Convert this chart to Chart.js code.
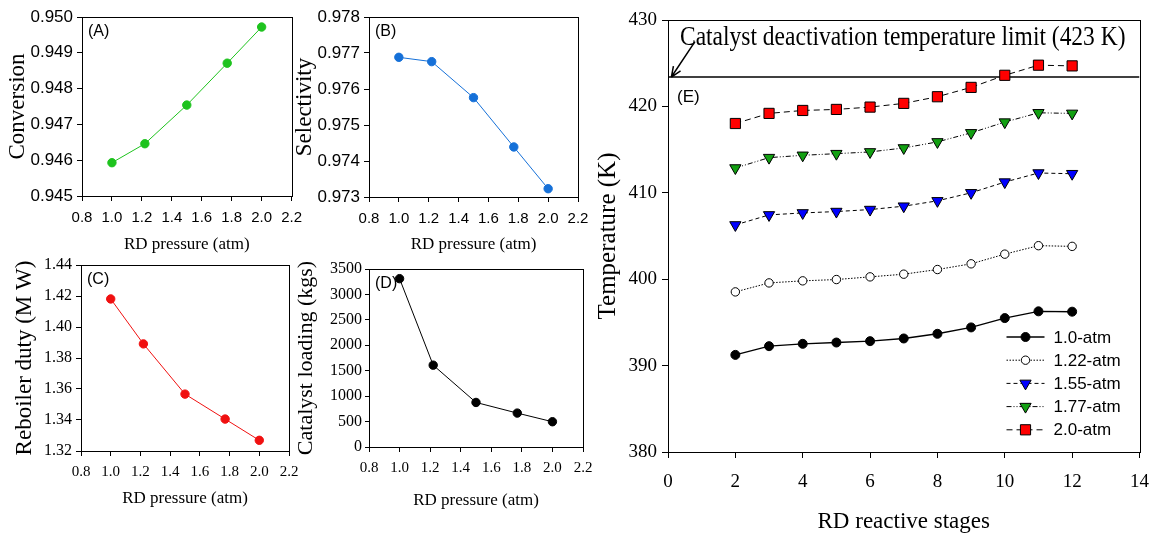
<!DOCTYPE html>
<html>
<head>
<meta charset="utf-8">
<script src="https://cdn.jsdelivr.net/npm/chart.js@4.4.1/dist/chart.umd.min.js"></script>
<style>
  html, body { margin: 0; padding: 0; background: #fff; }
  body { width: 1162px; height: 536px; position: relative; overflow: hidden; }
  canvas { position: absolute; }
</style>
</head>
<body>
<canvas id="cA" width="310" height="262" style="left:0;top:0"></canvas>
<canvas id="cB" width="310" height="262" style="left:290px;top:0"></canvas>
<canvas id="cC" width="310" height="286" style="left:0;top:250px"></canvas>
<canvas id="cD" width="320" height="286" style="left:290px;top:250px"></canvas>
<canvas id="cE" width="582" height="536" style="left:580px;top:0"></canvas>
<script>
// panels A-D: RD pressure sweep
const pressures = [1.0, 1.22, 1.5, 1.77, 2.0];
const conversion = [0.94593, 0.94646, 0.94754, 0.94871, 0.94972];
const selectivity = [0.97688, 0.97676, 0.97576, 0.97439, 0.97323];
const reboilerDuty = [1.4181, 1.3891, 1.3567, 1.3406, 1.3269];
const catalystLoading = [3310, 1609, 876, 667, 497];

// panel E: temperature profile along the reactive stages
const stages = [2, 3, 4, 5, 6, 7, 8, 9, 10, 11, 12];
const temp100 = [391.24, 392.25, 392.52, 392.67, 392.83, 393.14, 393.68, 394.42, 395.5, 396.28, 396.24];
const temp122 = [398.53, 399.57, 399.81, 399.96, 400.27, 400.58, 401.12, 401.78, 402.9, 403.88, 403.8];
const temp155 = [406.28, 407.44, 407.67, 407.83, 408.06, 408.45, 409.07, 410.0, 411.24, 412.29, 412.21];
const temp177 = [412.87, 414.07, 414.34, 414.53, 414.73, 415.19, 415.89, 416.94, 418.18, 419.26, 419.19];
const temp200 = [418.02, 419.19, 419.53, 419.65, 419.92, 420.35, 421.12, 422.2, 423.6, 424.77, 424.69];
const seriesLabels = ['1.0-atm', '1.22-atm', '1.55-atm', '1.77-atm', '2.0-atm'];
const limitK = 423.4;
const limitText = 'Catalyst deactivation temperature limit (423 K)';

const SERIF = '"Liberation Serif", "Times New Roman", serif';
const SANS = '"Liberation Sans", Arial, sans-serif';

const pts = (xs, ys) => xs.map((x, i) => ({ x: x, y: ys[i] }));

// box around the plot area + panel letter
const framePlugin = {
  id: 'frame',
  beforeDatasetsDraw(chart) {
    const { ctx, chartArea: a } = chart;
    ctx.save();
    ctx.strokeStyle = '#000';
    ctx.lineWidth = 1;
    ctx.strokeRect(Math.round(a.left) + 0.5, Math.round(a.top) + 0.5,
      Math.round(a.right - a.left), Math.round(a.bottom - a.top));
    const lbl = chart.options.plugins.frame.label;
    if (lbl) {
      ctx.fillStyle = '#000';
      ctx.font = '16px ' + SANS;
      ctx.textBaseline = 'middle';
      ctx.textAlign = 'left';
      ctx.fillText(lbl, a.left + 6, a.top + 15);
    }
    ctx.restore();
  }
};

function smallPanel(id, o) {
  const canvas = document.getElementById(id);
  const serifTicks = o.serifTicks;
  return new Chart(canvas, {
    type: 'line',
    data: {
      datasets: [{
        data: pts(pressures, o.values),
        borderColor: o.color,
        backgroundColor: o.color,
        borderWidth: 1,
        pointRadius: 4.2,
        pointBorderWidth: 1,
        pointBorderColor: o.color,
        pointBackgroundColor: o.color,
        tension: 0
      }]
    },
    options: {
      responsive: false,
      animation: false,
      devicePixelRatio: 1,
      layout: { padding: { top: o.box.top, right: canvas.width - o.box.right, left: 0, bottom: 0 } },
      plugins: { legend: { display: false }, tooltip: { enabled: false }, frame: { label: o.label } },
      scales: {
        x: {
          type: 'linear', min: 0.8, max: 2.2,
          border: { display: false },
          grid: { drawOnChartArea: false, drawTicks: true, tickLength: 5, color: '#000' },
          ticks: {
            stepSize: 0.2, autoSkip: false, maxRotation: 0, color: '#000', padding: serifTicks ? 7 : 8,
            font: { family: serifTicks ? SERIF : SANS, size: 15 },
            callback: v => v.toFixed(1)
          },
          title: {
            display: true, text: 'RD pressure (atm)', color: '#000',
            font: { family: SERIF, size: 17 }, padding: { top: 0, bottom: o.xTitlePad }
          },
          afterFit: s => { s.height = canvas.height - o.box.bottom; }
        },
        y: {
          min: o.yMin, max: o.yMax,
          border: { display: false },
          grid: { drawOnChartArea: false, drawTicks: true, tickLength: o.yTick, color: '#000' },
          ticks: {
            stepSize: o.yStep, autoSkip: false, color: '#000', padding: o.yPad,
            font: { family: serifTicks ? SERIF : SANS, size: serifTicks ? 16 : 17 },
            callback: v => v.toFixed(o.yDec)
          },
          title: {
            display: true, text: o.yTitle, color: '#000',
            font: { family: SERIF, size: o.yTitleSize }, padding: { top: o.yTitlePad, bottom: 0 }
          },
          afterFit: s => { s.width = o.box.left; }
        }
      }
    },
    plugins: [framePlugin]
  });
}

smallPanel('cA', {
  values: conversion, color: '#1ec31e', label: '(A)',
  box: { left: 82, right: 292, top: 17, bottom: 196 },
  yMin: 0.945, yMax: 0.950, yStep: 0.001, yDec: 3, yTick: 5, yPad: 4,
  yTitle: 'Conversion', yTitleSize: 23, yTitlePad: 4, xTitlePad: 7, serifTicks: false
});
smallPanel('cB', {
  values: selectivity, color: '#1570d8', label: '(B)',
  box: { left: 79, right: 288, top: 17, bottom: 197 },
  yMin: 0.973, yMax: 0.978, yStep: 0.001, yDec: 3, yTick: 5, yPad: 4,
  yTitle: 'Selectivity', yTitleSize: 23, yTitlePad: 1, xTitlePad: 7, serifTicks: false
});
smallPanel('cC', {
  values: reboilerDuty, color: '#f01010', label: '(C)',
  box: { left: 81, right: 289, top: 15, bottom: 201 },
  yMin: 1.32, yMax: 1.44, yStep: 0.02, yDec: 2, yTick: 5, yPad: 4,
  yTitle: 'Reboiler duty (M W)', yTitleSize: 23, yTitlePad: 11, xTitlePad: 27, serifTicks: true
});
smallPanel('cD', {
  values: catalystLoading, color: '#000000', label: '(D)',
  box: { left: 79, right: 293, top: 19, bottom: 197 },
  yMin: 0, yMax: 3500, yStep: 500, yDec: 0, yTick: 4, yPad: 3,
  yTitle: 'Catalyst loading (kgs)', yTitleSize: 22, yTitlePad: 3, xTitlePad: 25, serifTicks: true
});

// ---- panel E ----
function drawMarker(ctx, style, x, y, r, rot) {
  ctx.beginPath();
  if (style === 'circle') {
    ctx.arc(x, y, r, 0, Math.PI * 2);
  } else if (style === 'rect') {
    const s = r * Math.SQRT1_2;
    ctx.rect(x - s, y - s, 2 * s, 2 * s);
  } else if (style === 'triangle') {
    let a = rot ? Math.PI : 0;
    ctx.moveTo(x + Math.sin(a) * r, y - Math.cos(a) * r);
    a += 2 * Math.PI / 3;
    ctx.lineTo(x + Math.sin(a) * r, y - Math.cos(a) * r);
    a += 2 * Math.PI / 3;
    ctx.lineTo(x + Math.sin(a) * r, y - Math.cos(a) * r);
    ctx.closePath();
  }
  ctx.fill();
  ctx.stroke();
}

const panelEPlugin = {
  id: 'panelE',
  afterDatasetsDraw(chart) {
    const { ctx, chartArea: a, scales } = chart;
    ctx.save();
    ctx.fillStyle = '#000';
    // limit caption, squeezed horizontally like the original
    ctx.font = '27px ' + SERIF;
    ctx.textBaseline = 'alphabetic';
    ctx.textAlign = 'left';
    ctx.save();
    ctx.translate(a.left + 12, a.top + 25);
    ctx.scale(0.87, 1);
    ctx.fillText(limitText, 0, 0);
    ctx.restore();

    // arrow pointing at the limit line
    const hx = scales.x.getPixelForValue(0.1), hy = scales.y.getPixelForValue(limitK);
    const tx = scales.x.getPixelForValue(0.8), ty = scales.y.getPixelForValue(427.5);
    ctx.strokeStyle = '#000';
    ctx.lineWidth = 1.5;
    ctx.beginPath();
    ctx.moveTo(tx, ty);
    ctx.lineTo(hx, hy);
    const ang = Math.atan2(hy - ty, hx - tx);
    ctx.moveTo(hx, hy);
    ctx.lineTo(hx - 11 * Math.cos(ang - 0.4), hy - 11 * Math.sin(ang - 0.4));
    ctx.moveTo(hx, hy);
    ctx.lineTo(hx - 11 * Math.cos(ang + 0.4), hy - 11 * Math.sin(ang + 0.4));
    ctx.stroke();

    ctx.font = '17px ' + SANS;
    ctx.textBaseline = 'middle';
    ctx.fillText('(E)', a.left + 9, a.top + 77);

    // legend
    const x0 = a.right - 133, y0 = a.bottom - 115;
    chart.data.datasets.forEach((ds, i) => {
      if (!ds.inLegend) return;
      const y = y0 + i * 23.2;
      ctx.save();
      ctx.strokeStyle = ds.borderColor;
      ctx.lineWidth = ds.borderWidth;
      ctx.setLineDash(ds.borderDash || []);
      ctx.beginPath();
      ctx.moveTo(x0, y);
      ctx.lineTo(x0 + 38, y);
      ctx.stroke();
      ctx.restore();
      ctx.save();
      ctx.fillStyle = ds.pointBackgroundColor;
      ctx.strokeStyle = ds.pointBorderColor;
      ctx.lineWidth = 1;
      drawMarker(ctx, ds.pointStyle, x0 + 19, y, ds.pointRadius, ds.pointRotation);
      ctx.restore();
      ctx.fillStyle = '#000';
      ctx.font = '17px ' + SANS;
      ctx.textBaseline = 'middle';
      ctx.fillText(ds.label, x0 + 47, y + 1);
    });
    ctx.restore();
  }
};

function tempSeries(label, ys, o) {
  return Object.assign({
    label: label,
    data: pts(stages, ys),
    inLegend: true,
    borderColor: '#000',
    borderWidth: 1,
    pointBorderColor: '#000',
    pointBorderWidth: 1,
    pointRotation: 0,
    tension: 0
  }, o);
}

const canvasE = document.getElementById('cE');
const boxE = { left: 88, right: 560, top: 20, bottom: 452 };
new Chart(canvasE, {
  type: 'line',
  data: {
    datasets: [
      tempSeries(seriesLabels[0], temp100, { borderWidth: 1.4, pointStyle: 'circle', pointRadius: 4.5, pointBackgroundColor: '#000' }),
      tempSeries(seriesLabels[1], temp122, { borderDash: [1.5, 1.5], pointStyle: 'circle', pointRadius: 4.2, pointBackgroundColor: '#fff' }),
      tempSeries(seriesLabels[2], temp155, { borderDash: [4, 3], pointStyle: 'triangle', pointRotation: 180, pointRadius: 6.5, pointBackgroundColor: '#0000ff' }),
      tempSeries(seriesLabels[3], temp177, { borderDash: [5, 2, 1, 2, 1, 2], pointStyle: 'triangle', pointRotation: 180, pointRadius: 6.5, pointBackgroundColor: '#12a012' }),
      tempSeries(seriesLabels[4], temp200, { borderDash: [6, 4], pointStyle: 'rect', pointRadius: 7.2, pointBackgroundColor: '#ff0000' }),
      {
        label: 'limit', inLegend: false,
        data: [{ x: 0, y: limitK }, { x: 14, y: limitK }],
        borderColor: '#000', borderWidth: 1.5, pointRadius: 0, tension: 0
      }
    ]
  },
  options: {
    responsive: false,
    animation: false,
    devicePixelRatio: 1,
    layout: { padding: { top: boxE.top, right: canvasE.width - boxE.right, left: 0, bottom: 0 } },
    plugins: { legend: { display: false }, tooltip: { enabled: false }, frame: {} },
    scales: {
      x: {
        type: 'linear', min: 0, max: 14,
        border: { display: false },
        grid: { drawOnChartArea: false, drawTicks: true, tickLength: 6, color: '#000' },
        ticks: { stepSize: 2, autoSkip: false, maxRotation: 0, color: '#000', padding: 13, font: { family: SERIF, size: 19 } },
        title: { display: true, text: 'RD reactive stages', color: '#000', font: { family: SERIF, size: 23 }, padding: { top: 0, bottom: 0 } },
        afterFit: s => { s.height = canvasE.height - boxE.bottom; }
      },
      y: {
        min: 380, max: 430,
        border: { display: false },
        grid: { drawOnChartArea: false, drawTicks: true, tickLength: 6, color: '#000' },
        ticks: { stepSize: 10, autoSkip: false, color: '#000', padding: 5, font: { family: SERIF, size: 19 } },
        title: { display: true, text: 'Temperature (K)', color: '#000', font: { family: SERIF, size: 25 }, padding: { top: 13, bottom: 0 } },
        afterFit: s => { s.width = boxE.left; }
      }
    }
  },
  plugins: [framePlugin, panelEPlugin]
});
</script>
</body>
</html>
